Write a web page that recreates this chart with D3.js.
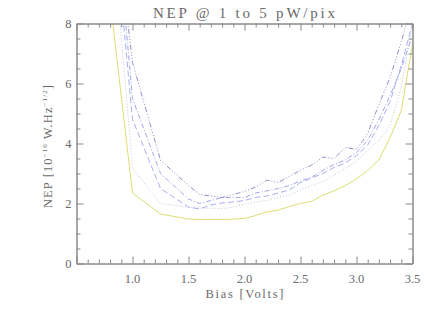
<!DOCTYPE html>
<html><head><meta charset="utf-8">
<script src="https://cdn.jsdelivr.net/npm/d3@7"></script>
<style>html,body{margin:0;padding:0;background:#fff;}svg{display:block;}</style>
</head><body><svg id="c" width="436" height="312"></svg>
<script>
const biasVolts = [0.75, 1.0, 1.25, 1.5, 1.6, 1.7, 1.8, 1.9, 2.0, 2.1, 2.2, 2.3, 2.4, 2.5, 2.6, 2.7, 2.8, 2.9, 3.0, 3.1, 3.2, 3.3, 3.4, 3.5];
const nep1 = [10.4, 2.35, 1.65, 1.48, 1.47, 1.47, 1.47, 1.48, 1.5, 1.6, 1.72, 1.78, 1.9, 2.0, 2.07, 2.28, 2.42, 2.6, 2.82, 3.1, 3.45, 4.2, 5.1, 7.3];
const nep2 = [14.1, 3.18, 2.0, 1.87, 1.85, 1.84, 1.83, 1.88, 1.98, 2.05, 2.1, 2.2, 2.28, 2.45, 2.6, 2.72, 2.95, 3.17, 3.4, 3.78, 4.1, 4.6, 5.9, 8.0];
const nep3 = [14.8, 4.8, 2.5, 1.88, 1.82, 1.95, 2.02, 2.05, 2.1, 2.2, 2.25, 2.35, 2.45, 2.7, 2.85, 3.0, 3.2, 3.35, 3.6, 3.95, 4.6, 5.4, 6.6, 8.0];
const nep4 = [15.9, 5.5, 3.0, 2.15, 2.0, 2.1, 2.2, 2.2, 2.2, 2.35, 2.42, 2.5, 2.6, 2.75, 2.88, 3.1, 3.3, 3.45, 3.7, 4.1, 4.8, 5.6, 6.5, 7.6];
const nep5 = [14.7, 6.7, 3.44, 2.6, 2.3, 2.25, 2.2, 2.3, 2.4, 2.55, 2.78, 2.7, 2.9, 3.11, 3.28, 3.55, 3.5, 3.87, 3.8, 4.33, 5.3, 6.2, 7.4, 8.7];
const xMajorTicks = [0.5, 1.0, 1.5, 2.0, 2.5, 3.0, 3.5];
const xTickLabels = ["", "1.0", "1.5", "2.0", "2.5", "3.0", "3.5"];
const yMajorTicks = [0, 2, 4, 6, 8];
const yTickLabels = ["0", "2", "4", "6", "8"];

const seriesList = [
  {values: nep2, color: "#c4c4dc", dash: "1,2"},
  {values: nep3, color: "#a8aef2", dash: "6,3"},
  {values: nep4, color: "#a4a6e6", dash: "5,2,1,2"},
  {values: nep5, color: "#8e8ecc", dash: "5,2,1,2,1,2,1,2"},
  {values: nep1, color: "#dcdc74", dash: null}
];

const svg = d3.select("#c");
const L = 76.5, R = 412.5, T = 23.5, B = 263.5;
const x = d3.scaleLinear().domain([0.5, 3.5]).range([L, R]);
const y = d3.scaleLinear().domain([0, 8]).range([B, T]);
const font = "'Liberation Serif', 'DejaVu Serif', serif";
const axisColor = "#8a8a8a";
const textColor = "#6a6a6a";

svg.append("clipPath").attr("id","clip").append("rect")
  .attr("x", L).attr("y", T).attr("width", R-L).attr("height", B-T);

// lines
const line = d3.line().x((d,i)=>x(biasVolts[i])).y(d=>y(d));
const g = svg.append("g").attr("clip-path","url(#clip)");
seriesList.forEach(s => {
  g.append("path").datum(s.values)
    .attr("d", line)
    .attr("fill","none")
    .attr("stroke", s.color)
    .attr("stroke-width", 1)
    .attr("stroke-dasharray", s.dash);
});

// axes
const xMinor = d3.range(5, 36).map(v=>v/10).filter(v=>Math.abs(v*2-Math.round(v*2))>1e-6);
const yMinor = d3.range(0, 17).map(v=>v/2).filter(v=>v%2!==0);
function styleAxis(sel){
  sel.selectAll("path,line").attr("stroke", axisColor).attr("stroke-width", 1);
  sel.selectAll("text").remove();
}
function addAxis(gen, tx, ty){
  const a = svg.append("g").attr("transform", `translate(${tx},${ty})`).call(gen);
  styleAxis(a);
  return a;
}
addAxis(d3.axisBottom(x).tickValues(xMajorTicks).tickSizeInner(-7).tickSizeOuter(0), 0, B);
addAxis(d3.axisBottom(x).tickValues(xMinor).tickSizeInner(-4).tickSizeOuter(0), 0, B);
addAxis(d3.axisTop(x).tickValues(xMajorTicks).tickSizeInner(-7).tickSizeOuter(0), 0, T);
addAxis(d3.axisTop(x).tickValues(xMinor).tickSizeInner(-4).tickSizeOuter(0), 0, T);
addAxis(d3.axisLeft(y).tickValues(yMajorTicks).tickSizeInner(-7).tickSizeOuter(0), L, 0);
addAxis(d3.axisLeft(y).tickValues(yMinor).tickSizeInner(-4).tickSizeOuter(0), L, 0);
addAxis(d3.axisRight(y).tickValues(yMajorTicks).tickSizeInner(-7).tickSizeOuter(0), R, 0);
addAxis(d3.axisRight(y).tickValues(yMinor).tickSizeInner(-4).tickSizeOuter(0), R, 0);

// tick labels
svg.append("g").selectAll("text").data(xMajorTicks).join("text")
  .attr("x", d=>x(d)).attr("y", B+19)
  .attr("text-anchor","middle")
  .attr("font-family", font).attr("font-size", 12.5).attr("fill", textColor)
  .text((d,i)=>xTickLabels[i]);
svg.append("g").selectAll("text").data(yMajorTicks).join("text")
  .attr("x", L-5).attr("y", d=>y(d)+4.5)
  .attr("text-anchor","end")
  .attr("font-family", font).attr("font-size", 12.5).attr("fill", textColor)
  .text((d,i)=>yTickLabels[i]);

// title
svg.append("text").attr("x", 244).attr("y", 18)
  .attr("text-anchor","middle")
  .attr("font-family", font).attr("font-size", 15).attr("fill", textColor)
  .attr("textLength", 182).attr("lengthAdjust","spacing")
  .text("NEP @ 1 to 5 pW/pix");

// x label
svg.append("text").attr("x", 244.5).attr("y", 298)
  .attr("text-anchor","middle")
  .attr("font-family", font).attr("font-size", 12.5).attr("fill", textColor)
  .attr("textLength", 78).attr("lengthAdjust","spacing")
  .text("Bias [Volts]");

// y label
const yl = svg.append("text")
  .attr("transform", "translate(52,146.5) rotate(-90)")
  .attr("text-anchor","middle")
  .attr("font-family", font).attr("font-size", 12.5).attr("fill", textColor)
  .attr("textLength", 123).attr("lengthAdjust","spacing");
yl.append("tspan").text("NEP [10");
yl.append("tspan").attr("font-size", 7).attr("dy", -5).text("\u221216");
yl.append("tspan").attr("dy", 5).text(" W.Hz");
yl.append("tspan").attr("font-size", 7).attr("dy", -5).text("\u22121/2");
yl.append("tspan").attr("dy", 5).text("]");
</script></body></html>
